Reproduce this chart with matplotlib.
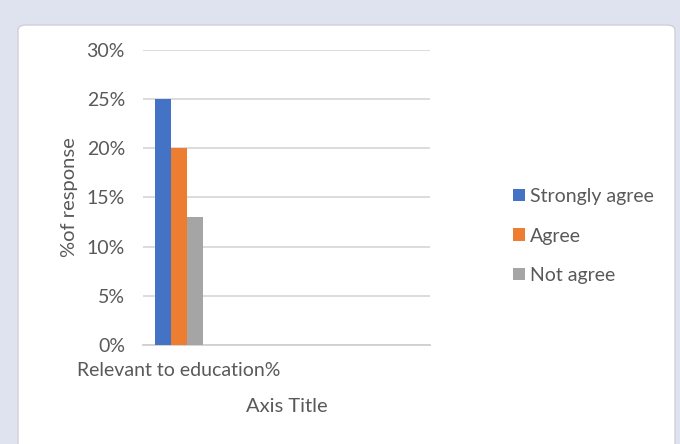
import matplotlib
matplotlib.use("Agg")
import matplotlib.pyplot as plt
from matplotlib.patches import FancyBboxPatch
from matplotlib.ticker import PercentFormatter
import numpy as np

# Data
categories = ["Relevant to education%", "", "", ""]
series_names = ["Strongly agree", "Agree", "Not agree"]
values = [
    [25, np.nan, np.nan, np.nan],
    [20, np.nan, np.nan, np.nan],
    [13, np.nan, np.nan, np.nan],
]
colors = ["#4472c4", "#ed7d31", "#a5a5a5"]

plt.rcParams["font.family"] = ["Lato", "DejaVu Sans"]
text_col = "#595959"

fig = plt.figure(figsize=(6.8, 4.44), dpi=100)
fig.patch.set_facecolor("#dfe2ef")

panel = FancyBboxPatch((18 / 680, -0.05), (675 - 18) / 680, (444 - 25) / 444 + 0.05,
                       boxstyle="round,pad=0,rounding_size=0.012",
                       transform=fig.transFigure, facecolor="white",
                       edgecolor="#d0d0d8", linewidth=1.0, zorder=-5)
fig.patches.append(panel)

ax = fig.add_axes([143 / 680, 1 - 345 / 444, (430 - 143) / 680, (345 - 50) / 444])
ax.set_facecolor("none")
ax.set_zorder(2)

x = np.arange(len(categories))
w = 0.222
for i, (name, vals) in enumerate(zip(series_names, values)):
    ax.bar(x + (i - 1) * w, vals, width=w, color=colors[i], label=name, zorder=3)

ax.set_xlim(-0.5, len(categories) - 0.5)
ax.set_ylim(0, 30)
ax.set_yticks(range(0, 31, 5))
ax.yaxis.set_major_formatter(PercentFormatter(decimals=0))
ax.set_xticks(x)
ax.set_xticklabels(categories)
ax.grid(axis="y", color="#d9d9d9", linewidth=1.3, zorder=0)
for s in ["top", "right", "left"]:
    ax.spines[s].set_visible(False)
ax.spines["bottom"].set_color("#d0d0d0")
ax.spines["bottom"].set_linewidth(1.3)
ax.tick_params(axis="both", length=0, colors=text_col, labelsize=14)
ax.tick_params(axis="y", pad=13)
ax.tick_params(axis="x", pad=12)

ax.set_ylabel("%of response", color=text_col, fontsize=14.5, labelpad=6)
ax.set_xlabel("Axis Title", color=text_col, fontsize=14.5, labelpad=14)

leg = ax.legend(loc="center left", bbox_to_anchor=((513 - 143) / 287, 1 - (236 - 50) / 295),
                frameon=False, fontsize=14, labelcolor=text_col, borderpad=0,
                borderaxespad=0,
                handlelength=0.6, handleheight=0.6, handletextpad=0.25,
                labelspacing=1.15)

fig.savefig("out.png", dpi=100)
